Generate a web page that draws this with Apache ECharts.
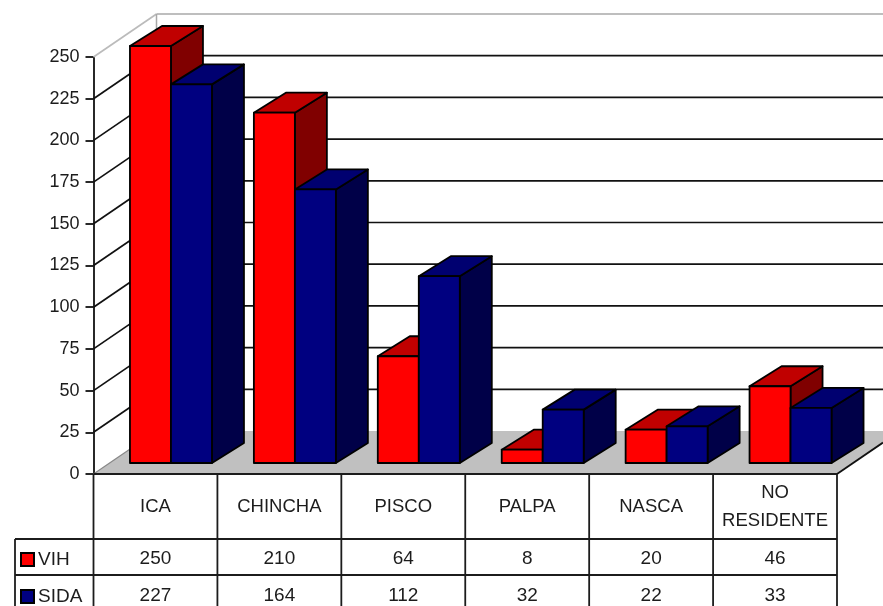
<!DOCTYPE html>
<html><head><meta charset="utf-8">
<style>html,body{margin:0;padding:0;background:#fff}#c{width:883px;height:606px}</style>
<script src="https://cdn.jsdelivr.net/npm/echarts@6/dist/echarts.min.js"></script>
</head><body><div id="c"></div>
<script>
const categories = ['ICA','CHINCHA','PISCO','PALPA','NASCA','NO\nRESIDENTE'];
const vih = [250,210,64,8,20,46];
const sida = [227,164,112,32,22,33];
const yTicks = [0,25,50,75,100,125,150,175,200,225,250];

const FONT = '"Liberation Sans", Arial, sans-serif';
const INK = '#1c1c1c';
const WALL = {dx:63, dy:-43};
const BAR = {dx:32, dy:-20, shiftX:15.5, shiftY:-11, w:41};
const ROW = {header:65, vih:36, sida:36};

const chart = echarts.init(document.getElementById('c'));

function poly(points, fill){
  return {type:'polygon', shape:{points}, style:{fill, stroke:'#000', lineWidth:1.8, lineJoin:'round'}};
}
function line(x1,y1,x2,y2,stroke,lineWidth){
  return {type:'line', shape:{x1,y1,x2,y2}, style:{stroke, lineWidth}};
}
function barSeries(name, values, side, colors){
  return {
    name, type:'custom', coordinateSystem:'cartesian2d', z:5,
    data: values.map((v,i)=>[i,v]),
    encode:{x:0,y:1},
    itemStyle:{color:colors[0], borderColor:'#000', borderWidth:1.5},
    renderItem(params, api){
      const top = api.coord([api.value(0), api.value(1)]);
      const base = api.coord([api.value(0), 0]);
      const mid = top[0] + BAR.shiftX;
      const l = side < 0 ? mid - BAR.w : mid;
      const r = l + BAR.w;
      const t = top[1] + BAR.shiftY, b = base[1] + BAR.shiftY;
      const d = BAR;
      return {type:'group', children:[
        poly([[r,t],[r+d.dx,t+d.dy],[r+d.dx,b+d.dy],[r,b]], colors[2]),
        poly([[l,t],[l+d.dx,t+d.dy],[r+d.dx,t+d.dy],[r,t]], colors[1]),
        poly([[l,t],[r,t],[r,b],[l,b]], colors[0])
      ]};
    }
  };
}
// floor
const floorSeries = {
  type:'custom', coordinateSystem:'cartesian2d', z:1, silent:true,
  data:[[0,0]], encode:{x:0,y:1},
  renderItem(params, api){
    const g = params.coordSys, W = api.getWidth();
    const y0 = g.y + g.height, x0 = g.x, x1 = g.x + g.width;
    const k = (W - x1) / WALL.dx;
    const by = y0 + WALL.dy;
    return {type:'group', children:[
      {type:'polygon', shape:{points:[[x0,y0],[x1,y0],[W,y0+WALL.dy*k],[W,by],[x0+WALL.dx,by]]}, style:{fill:'#c0c0c0'}},
      line(x0,y0,x0+WALL.dx,by,'#888',1.2),
      line(x1,y0,W,y0+WALL.dy*k,'#111',1.8)
    ]};
  }
};
// walls
const gridSeries = {
  type:'custom', coordinateSystem:'cartesian2d', z:2, silent:true,
  data: yTicks.filter(v=>v>0).map(v=>[0,v]), encode:{x:0,y:1},
  renderItem(params, api){
    const g = params.coordSys, W = api.getWidth();
    const v = api.value(1);
    const y = api.coord([0,v])[1];
    const top = v === yTicks[yTicks.length-1];
    const c = top ? '#a8a8a8' : '#111';
    const ch = [
      line(g.x,y,g.x+WALL.dx,y+WALL.dy,top?'#bbb':'#111',1.7),
      line(g.x+WALL.dx,y+WALL.dy,W,y+WALL.dy,c,1.7)
    ];
    if(top) ch.push(line(g.x+WALL.dx,y+WALL.dy,g.x+WALL.dx,g.y+g.height+WALL.dy,'#a8a8a8',1.5));
    return {type:'group', children:ch};
  }
};
// data-table rules
const tableSeries = {
  type:'custom', coordinateSystem:'cartesian2d', z:3, silent:true,
  data:[[0,0]], encode:{x:0,y:1},
  renderItem(params, api){
    const g = params.coordSys, H = api.getHeight();
    const y0 = g.y + g.height, step = g.width / categories.length;
    const y1 = y0 + ROW.header, y2 = y1 + ROW.vih;
    const lx = 15, ink = '#1c1c1c';
    const ch = [
      line(g.x,y0,g.x+g.width,y0,ink,1.8),
      line(lx,y1,g.x+g.width,y1,ink,1.8),
      line(lx,y2,g.x+g.width,y2,ink,1.8),
      line(lx,y1,lx,H,ink,1.8)
    ];
    for(let i=0;i<=categories.length;i++){
      ch.push(line(g.x+i*step,y0,g.x+i*step,H,ink,1.8));
    }
    return {type:'group', children:ch};
  }
};
function rowSeries(values, rowOffset){
  return {
    type:'custom', coordinateSystem:'cartesian2d', z:4, silent:true,
    data: values.map((v,i)=>[i,v]), encode:{x:0,y:1},
    renderItem(params, api){
      const g = params.coordSys;
      const x = api.coord([api.value(0),0])[0];
      return {type:'text', style:{
        text:String(api.value(1)), x, y:g.y+g.height+rowOffset,
        align:'center', verticalAlign:'middle',
        font:'19px '+FONT, fill:INK
      }};
    }
  };
}
function legendRow(name, top){
  return {
    show:true, orient:'horizontal', left:20, top, itemWidth:13, itemHeight:13,
    data:[{name, icon:'rect'}],
    textStyle:{fontFamily:FONT, fontSize:19, color:INK, padding:[0,0,0,-1]},
    selectedMode:false, padding:0
  };
}

chart.setOption({
  animation:false,
  backgroundColor:'#fff',
  grid:{left:93.5, top:57, width:743.5, height:417, containLabel:false},
  xAxis:{
    type:'category', data:categories,
    axisLine:{show:false}, axisTick:{show:false}, splitLine:{show:false},
    axisLabel:{show:true, interval:0, margin:33, verticalAlign:'middle', lineHeight:28,
      fontFamily:FONT, fontSize:18.5, color:INK}
  },
  yAxis:{
    type:'value', min:0, max:250, interval:25,
    axisLine:{show:true, lineStyle:{color:'#111', width:1.8}},
    axisTick:{show:true, length:8, lineStyle:{color:'#111', width:1.8}},
    splitLine:{show:false},
    axisLabel:{margin:14, fontFamily:FONT, fontSize:18, color:INK}
  },
  legend:[legendRow('VIH', 550), legendRow('SIDA', 587)],
  series:[
    floorSeries, gridSeries, tableSeries,
    rowSeries(vih, ROW.header + ROW.vih/2 + 2),
    rowSeries(sida, ROW.header + ROW.vih + ROW.sida/2 + 3),
    barSeries('VIH', vih, -1, ['#ff0000','#c00000','#800000']),
    barSeries('SIDA', sida, 1, ['#000080','#000070','#000048'])
  ]
});
</script></body></html>
